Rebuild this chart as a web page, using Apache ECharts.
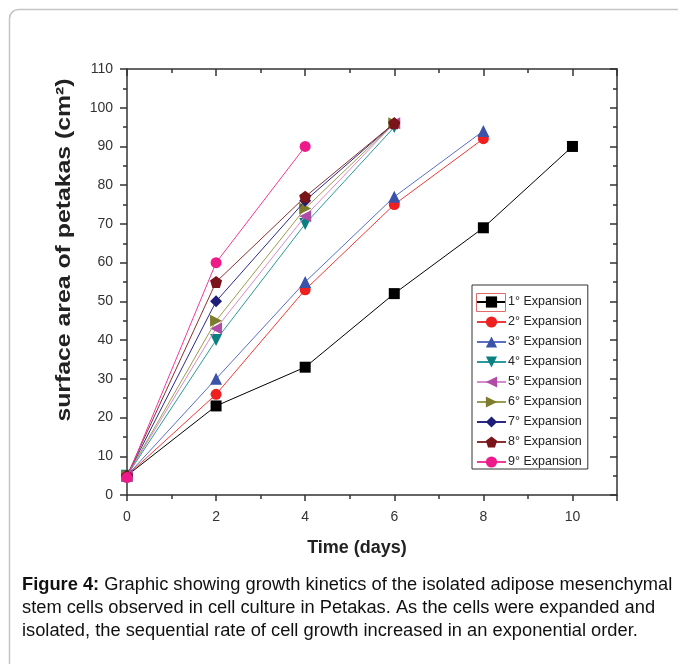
<!DOCTYPE html>
<html><head><meta charset="utf-8">
<script src="https://cdn.jsdelivr.net/npm/echarts@6/dist/echarts.min.js"></script>
<style>html,body{margin:0;padding:0;background:#fff}#c{width:678px;height:664px}</style>
</head><body><div id="c"></div>
<script>
var days = [0, 2, 4, 6, 8, 10];
var seriesNames = ['1° Expansion','2° Expansion','3° Expansion','4° Expansion','5° Expansion','6° Expansion','7° Expansion','8° Expansion','9° Expansion'];
var exp1 = [5, 23, 33, 52, 69, 90];
var exp2 = [5, 26, 53, 75, 92];
var exp3 = [5, 30, 55, 77, 94];
var exp4 = [5, 40, 70, 95];
var exp5 = [5, 43, 72, 96];
var exp6 = [5, 45, 74, 96];
var exp7 = [5, 50, 76, 96];
var exp8 = [5, 55, 77, 96];
var exp9 = [4.5, 60, 90];
var xTicks = [0, 2, 4, 6, 8, 10];
var yTicks = [0, 10, 20, 30, 40, 50, 60, 70, 80, 90, 100, 110];

var allValues = [exp1, exp2, exp3, exp4, exp5, exp6, exp7, exp8, exp9];
var markerColors = ['#000000','#ee2020','#3a52a8','#0a8080','#b04ca6','#7c7c2c','#1e1e78','#7a1418','#ee1a8a'];
var lineColors   = ['#000000','#ee3a3a','#5a6ec4','#2a9a9a','#d48ccc','#9c9c50','#2a2a88','#8a3030','#ee3a9a'];
var symbols = ['rect','circle','triangle','triangle','triangle','triangle','diamond','path://M50,0 L100,38 L81,100 L19,100 L0,38 Z','circle'];
var rotates = [0,0,0,180,90,-90,0,0,0];
var sizes = [11,11,12,12,12,12,12,12,11];

var series = allValues.map(function(vals, i){
  return {
    name: seriesNames[i], type: 'line',
    data: vals.map(function(v, j){ return [days[j], v]; }),
    symbol: symbols[i], symbolRotate: rotates[i], symbolSize: sizes[i],
    itemStyle: { color: markerColors[i] },
    lineStyle: { color: lineColors[i], width: 1 },
    emphasis: { disabled: true },
    animation: false, z: 3 + i
  };
});

var axisCol = '#333333';
var lbl = { color: '#333', fontFamily: 'Liberation Sans, Arial', fontSize: 14 };
var capFont = '18.3px "Liberation Sans", Arial';
var chart = echarts.init(document.getElementById('c'), null, {renderer: 'canvas'});
chart.setOption({
  animation: false,
  grid: { left: 127, top: 69, right: 61, bottom: 169 },
  xAxis: [{
    type: 'value', min: 0, max: 11, interval: 2, position: 'bottom',
    axisLine: { show: true, onZero: false, lineStyle: { color: axisCol, width: 1.5 } },
    axisTick: { show: true, inside: false, length: 6, lineStyle: { color: axisCol, width: 1.5 } },
    minorTick: { show: true, splitNumber: 2, length: 4, lineStyle: { color: axisCol, width: 1.5 } },
    axisLabel: Object.assign({ margin: 15, showMaxLabel: false,
      formatter: function(v){ return xTicks.indexOf(v) >= 0 ? String(v) : ''; } }, lbl),
    splitLine: { show: false }
  }, {
    type: 'value', min: 0, max: 11, interval: 2, position: 'top',
    axisLine: { show: true, onZero: false, lineStyle: { color: axisCol, width: 1.5 } },
    axisTick: { show: true, inside: true, length: 7, lineStyle: { color: axisCol, width: 1.5 } },
    minorTick: { show: true, splitNumber: 2, length: 4, lineStyle: { color: axisCol, width: 1.5 } },
    axisLabel: { show: false }, splitLine: { show: false }
  }],
  yAxis: [{
    type: 'value', min: 0, max: 110, interval: 10, position: 'left',
    axisLine: { show: true, onZero: false, lineStyle: { color: axisCol, width: 1.5 } },
    axisTick: { show: true, inside: false, length: 7, lineStyle: { color: axisCol, width: 1.5 } },
    minorTick: { show: true, splitNumber: 2, length: 4, lineStyle: { color: axisCol, width: 1.5 } },
    axisLabel: Object.assign({ margin: 14,
      formatter: function(v){ return yTicks.indexOf(v) >= 0 ? String(v) : ''; } }, lbl),
    splitLine: { show: false }
  }, {
    type: 'value', min: 0, max: 110, interval: 10, position: 'right',
    axisLine: { show: true, onZero: false, lineStyle: { color: axisCol, width: 1.5 } },
    axisTick: { show: true, inside: true, length: 7, lineStyle: { color: axisCol, width: 1.5 } },
    minorTick: { show: true, splitNumber: 2, length: 4, lineStyle: { color: axisCol, width: 1.5 } },
    axisLabel: { show: false }, splitLine: { show: false }
  }],
  legend: {
    data: seriesNames, orient: 'vertical', left: 472, top: 285,
    itemWidth: 29, itemHeight: 14, itemGap: 6,
    padding: [10, 6, 0, 4],
    borderColor: '#333', borderWidth: 1, backgroundColor: '#fff',
    textStyle: { color: '#222', fontFamily: 'Liberation Sans, Arial', fontSize: 12.5, lineHeight: 14, padding: [0,0,0,-3] },
    selectedMode: false, z: 20
  },
  graphic: [
    { type: 'rect', shape: { x: 9.5, y: 9.5, width: 720, height: 720, r: 9 }, silent: true,
      style: { fill: 'none', stroke: '#c4c4c4', lineWidth: 1.5 }, z: -10 },
    { type: 'rect', shape: { x: 476.5, y: 293.5, width: 29, height: 18 }, silent: true,
      style: { fill: 'none', stroke: '#e46a6a', lineWidth: 1 }, z: 100 },
    { type: 'text', x: 64, y: 250, rotation: Math.PI/2, scaleX: 1.24, silent: true,
      style: { text: 'surface area of petakas (cm²)', font: 'bold 20px "Liberation Sans", Arial',
        fill: '#222', align: 'center', verticalAlign: 'middle' } },
    { type: 'text', x: 357, y: 548, silent: true,
      style: { text: 'Time (days)', font: 'bold 18px "Liberation Sans", Arial',
        fill: '#222', align: 'center', verticalAlign: 'middle' } },
    { type: 'text', x: 22, y: 585, silent: true,
      style: { text: '{b|Figure 4:} Graphic showing growth kinetics of the isolated adipose mesenchymal',
        font: capFont, fill: '#111', verticalAlign: 'middle',
        rich: { b: { fontWeight: 'bold', fontFamily: '"Liberation Sans", Arial', fontSize: 18.3, fill: '#111' } } } },
    { type: 'text', x: 22, y: 608, silent: true,
      style: { text: 'stem cells observed in cell culture in Petakas. As the cells were expanded and',
        font: capFont, fill: '#111', verticalAlign: 'middle' } },
    { type: 'text', x: 22, y: 631, silent: true,
      style: { text: 'isolated, the sequential rate of cell growth increased in an exponential order.',
        font: capFont, fill: '#111', verticalAlign: 'middle' } }
  ],
  series: series
});
</script></body></html>
